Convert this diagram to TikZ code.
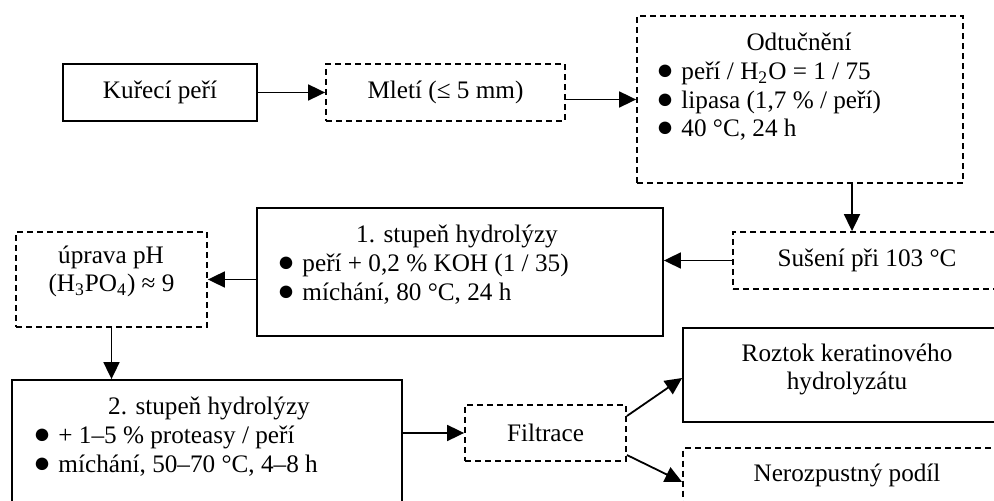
\documentclass[tikz,border=0pt]{standalone}
\usepackage{fontspec}
\setmainfont{Liberation Serif}
\usetikzlibrary{positioning}
\usetikzlibrary{calc}
\usetikzlibrary{arrows.meta}

\tikzset{
  box/.style={draw, rectangle, line width=0.9pt, inner sep=0pt},
  dbox/.style={box, dash pattern=on 3pt off 2pt},
  txt/.style={inner sep=0pt, anchor=base},
  ltxt/.style={inner sep=0pt, anchor=base west},
  arr/.style={-{Triangle[length=8.5pt,width=8pt]}, line width=0.9pt},
}
\newcommand{\bull}{{\fontsize{14.5}{14}\selectfont●}\hspace{0.3em}}

\begin{document}
\begin{tikzpicture}[x=0.5pt, y=-0.5pt, font=\fontsize{12.6}{14}\selectfont]
  \useasboundingbox (0,0) rectangle (994,501);
  \clip (0,0) rectangle (994,501);

  \node[box, minimum width=97pt, minimum height=28.5pt] (kure) at (160,92.5) {Kuřecí peří};
  \node[dbox, minimum width=119.5pt, minimum height=28.5pt] (mleti) at (445.5,92.5) {Mletí (≤ 5 mm)};

  \node[dbox, minimum width=163pt, minimum height=83.5pt] (odtuc) at (800,99.5) {};
  \node[txt] (odtuc-0) at (799,50.5) {Odtučnění};
  \node[ltxt] (odtuc-1) at (656,80) {\bull peří / H\textsubscript{2}O = 1 / 75};
  \node[ltxt] (odtuc-2) at (656,108.5) {\bull lipasa (1,7 \% / peří)};
  \node[ltxt] (odtuc-3) at (656,137) {\bull 40 °C, 24 h};

  \node[dbox, minimum width=134pt, minimum height=28.5pt] (suseni) at (867,260.5) {Sušení při 103 °C};

  \node[box, minimum width=203pt, minimum height=64pt] (stup1) at (460,272) {};
  \node[txt] (stup1-0) at (457,242.5) {1. stupeň hydrolýzy};
  \node[ltxt] (stup1-1) at (277,272) {\bull peří + 0,2 \% KOH (1 / 35)};
  \node[ltxt] (stup1-2) at (277,300.5) {\bull míchání, 80 °C, 24 h};

  \node[dbox, minimum width=95.5pt, minimum height=47.5pt] (uprava) at (111.5,279.5) {};
  \node[txt] (uprava-1) at (111,263.5) {úprava pH};
  \node[txt] (uprava-2) at (111.5,291.5) {(H\textsubscript{3}PO\textsubscript{4}) ≈ 9};

  \node[box, minimum width=195pt, minimum height=69.5pt] (stup2) at (207,449.5) {};
  \node[txt] (stup2-0) at (209,415) {2. stupeň hydrolýzy};
  \node[ltxt] (stup2-1) at (33,443.5) {\bull + 1–5 \% proteasy / peří};
  \node[ltxt] (stup2-2) at (33,472) {\bull míchání, 50–70 °C, 4–8 h};

  \node[dbox, minimum width=80.5pt, minimum height=28pt] (filtr) at (545.5,433) {Filtrace};

  \node[box, minimum width=164pt, minimum height=46.7pt] (roztok) at (847,375) {};
  \node[txt] (roztok-1) at (847,361.5) {Roztok keratinového};
  \node[txt] (roztok-2) at (847,390) {hydrolyzátu};

  \node[dbox, minimum width=164pt, minimum height=40.8pt] (neroz) at (847,489) {};
  \node[txt] (neroz-1) at (847,481.5) {Nerozpustný podíl};

  \draw[arr] (kure.east) -- (mleti.west);
  \draw[arr] (mleti.east |- odtuc.west) -- (odtuc.west);
  \draw[arr] ([xshift=26pt]odtuc.south) -- ([xshift=-7.5pt]suseni.north);
  \draw[arr] (suseni.west) -- (suseni.west -| stup1.east);
  \draw[arr] (stup1.west |- uprava.east) -- (uprava.east);
  \draw[arr] (uprava.south) -- (uprava.south |- stup2.north);
  \draw[arr] (stup2.east |- filtr.west) -- (filtr.west);
  \draw[arr] ([yshift=8.5pt]filtr.east) -- ([yshift=-1.5pt]roztok.west);
  \draw[arr] ([yshift=-11pt]filtr.east) -- ([yshift=3.5pt]neroz.west);
\end{tikzpicture}
\end{document}
